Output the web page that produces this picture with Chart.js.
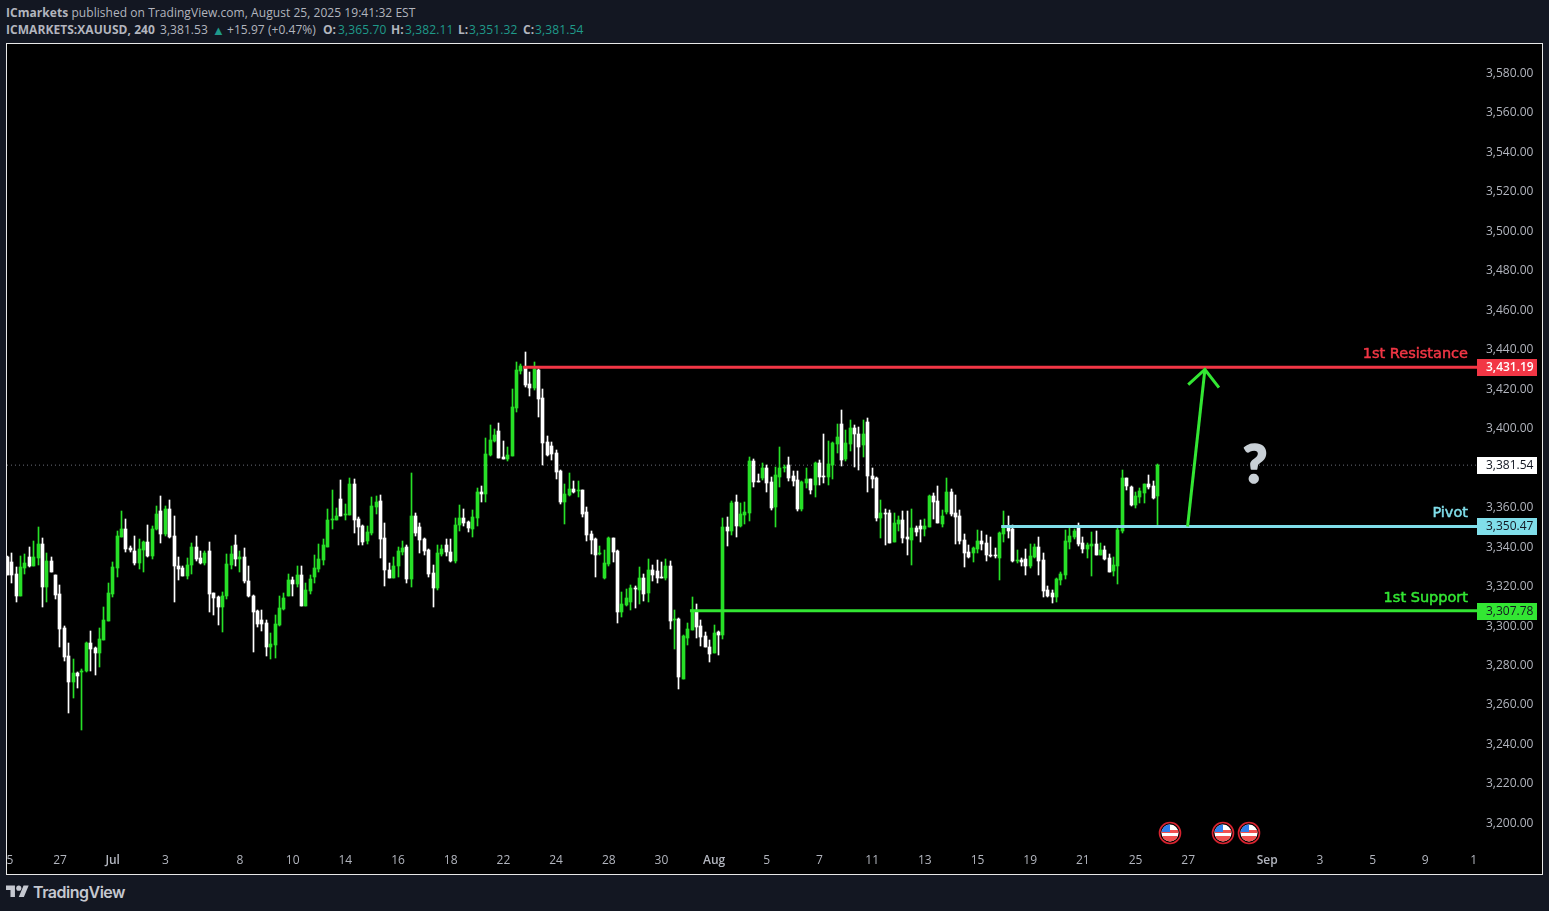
<!DOCTYPE html>
<html><head><meta charset="utf-8">
<script src="https://cdn.jsdelivr.net/npm/chart.js@4"></script>
<style>
html,body{margin:0;padding:0;background:#131722;width:1549px;height:911px;overflow:hidden}
body{font-family:"Open Sans",sans-serif;color:#b2b5be}
.hd{position:absolute;left:6px;white-space:nowrap;font-size:12px;line-height:16px;letter-spacing:.05px}
.hd b{font-weight:700;color:#b2b5be}
.p{position:absolute;top:22px;white-space:nowrap;font-size:12px;line-height:16px;letter-spacing:.05px}
.v{color:#1f9a8a;letter-spacing:.12px}
.b{font-weight:700}
#frame{position:absolute;left:6px;top:43px;width:1537px;height:832px;box-sizing:border-box;border:1px solid #e8e8e8;background:#000}
#wrap{position:absolute;left:0;top:0;width:1535px;height:830px}
#logo{position:absolute;left:6px;top:883px}
#tv{position:absolute;left:33px;top:881px;font:600 16px/22px "Inter",sans-serif;color:#c5c8d0;letter-spacing:-.5px}
</style></head><body>
<div class="hd" style="top:5px"><b>ICmarkets</b> published on TradingView.com, August 25, 2025 19:41:32 EST</div>
<span class="p b" style="left:6px">ICMARKETS:XAUUSD, 240</span>
<span class="p" style="left:160px">3,381.53</span>
<span class="p v" style="left:212px;font-size:13px">▲</span>
<span class="p" style="left:227px">+15.97 (+0.47%)</span>
<span class="p b" style="left:323px">O:</span><span class="p v" style="left:338px">3,365.70</span>
<span class="p b" style="left:391px">H:</span><span class="p v" style="left:405px">3,382.11</span>
<span class="p b" style="left:458px">L:</span><span class="p v" style="left:469px">3,351.32</span>
<span class="p b" style="left:523px">C:</span><span class="p v" style="left:535px">3,381.54</span>
<div id="frame"><div id="wrap"><canvas id="c" width="1535" height="830"></canvas></div></div>
<svg id="logo" width="23" height="18" viewBox="0 0 36 28"><path fill="#c5c8d0" d="M14 22H7V11H0V4h14v18zM28 22h-8l7.5-18h8L28 22z"/><circle fill="#c5c8d0" cx="20" cy="8" r="4"/></svg>
<div id="tv">TradingView</div>
<script>
const opens=[3335.2,3332.7,3326.6,3315.0,3329.2,3335.2,3330.2,3334.7,3341.8,3320.0,
3333.2,3326.1,3316.5,3298.8,3285.1,3271.9,3276.0,3277.0,3277.5,3291.2,
3288.7,3286.6,3293.2,3302.8,3316.5,3329.2,3344.9,3349.4,3339.8,3338.3,
3332.2,3338.8,3342.8,3335.7,3349.4,3358.5,3346.9,3359.5,3345.4,3330.7,
3329.2,3325.6,3331.2,3340.3,3334.7,3332.2,3338.3,3317.0,3314.5,3309.9,
3315.0,3331.2,3341.3,3334.2,3335.2,3323.1,3315.0,3307.4,3303.3,3301.8,
3289.2,3290.2,3300.8,3308.9,3315.0,3323.6,3321.1,3326.1,3310.4,3318.0,
3325.1,3329.1,3333.7,3340.3,3353.9,3353.9,3364.6,3356.5,3356.5,3372.2,
3354.4,3350.9,3343.3,3347.4,3360.5,3363.6,3344.8,3328.6,3324.6,3330.2,
3337.7,3340.3,3324.1,3356.0,3350.4,3344.3,3338.8,3327.1,3319.5,3336.7,
3341.3,3337.7,3333.2,3351.4,3355.0,3352.9,3349.4,3355.0,3368.1,3367.1,
3386.9,3394.0,3399.0,3385.9,3384.8,3386.4,3410.7,3429.4,3431.4,3422.8,
3420.8,3429.9,3415.7,3393.5,3391.4,3387.9,3378.8,3363.1,3366.6,3369.6,
3368.6,3369.1,3358.0,3346.8,3344.3,3336.7,3324.6,3331.6,3344.8,3338.2,
3307.3,3310.9,3312.4,3319.5,3318.5,3324.6,3317.0,3328.6,3328.1,3325.1,
3324.6,3330.6,3303.3,3303.8,3273.4,3294.2,3298.2,3307.8,3300.2,3295.2,
3289.6,3286.6,3297.2,3295.7,3350.4,3348.4,3363.0,3350.9,3356.5,3357.5,
3383.8,3373.7,3375.2,3380.3,3373.2,3360.5,3375.7,3380.3,3381.8,3376.2,
3374.2,3359.5,3372.7,3374.7,3371.6,3382.8,3376.2,3375.7,3381.8,3392.4,
3402.5,3384.8,3392.4,3400.5,3397.5,3391.9,3403.6,3376.2,3375.2,3354.9,
3357.5,3357.5,3342.8,3351.9,3353.9,3345.3,3343.8,3349.9,3350.9,3349.4,
3350.4,3366.1,3363.5,3351.9,3358.0,3368.1,3357.5,3356.0,3343.8,3337.7,
3337.2,3339.3,3343.3,3342.3,3336.2,3336.2,3334.7,3346.8,3350.4,3349.4,
3333.2,3333.7,3334.2,3330.6,3335.2,3340.3,3333.7,3318.5,3317.0,3314.9,
3323.5,3326.1,3342.8,3345.3,3350.9,3342.3,3339.3,3340.8,3341.8,3336.2,
3338.7,3334.7,3328.1,3330.6,3348.4,3375.2,3370.6,3361.5,3365.6,3367.6,3372.2,3371.1,3365.7];
const closes=[3326.1,3326.1,3315.0,3329.7,3332.2,3330.2,3335.2,3341.8,3320.0,3333.2,
3327.6,3316.0,3298.3,3284.6,3271.9,3276.0,3274.5,3277.5,3291.2,3288.2,
3286.6,3293.7,3303.3,3317.0,3329.7,3345.4,3349.4,3339.3,3338.8,3332.2,
3339.3,3342.8,3335.7,3349.4,3357.0,3346.9,3359.5,3344.9,3330.7,3328.7,
3325.6,3331.2,3340.3,3334.2,3332.2,3336.8,3316.5,3314.0,3309.9,3315.5,
3331.7,3336.3,3334.2,3335.2,3322.6,3315.0,3306.9,3301.3,3301.3,3289.2,
3290.7,3301.3,3309.4,3314.0,3323.6,3321.1,3326.1,3310.4,3318.5,3324.1,
3329.6,3334.2,3341.3,3353.9,3354.4,3356.0,3356.0,3357.0,3372.2,3353.9,
3350.4,3342.8,3347.9,3361.0,3363.1,3344.3,3328.6,3324.6,3330.7,3338.3,
3339.8,3324.1,3356.0,3347.4,3343.8,3338.3,3326.6,3319.5,3337.2,3339.3,
3337.7,3333.2,3351.4,3355.0,3352.4,3349.9,3355.5,3368.1,3367.1,3387.4,
3394.5,3397.0,3385.3,3384.8,3386.9,3411.2,3429.9,3431.9,3422.3,3420.8,
3430.4,3415.2,3392.9,3386.9,3387.4,3378.3,3363.1,3367.1,3369.6,3368.1,
3369.1,3357.0,3346.4,3343.8,3336.2,3337.2,3332.2,3344.8,3337.7,3307.3,
3311.4,3314.4,3319.5,3319.0,3324.6,3316.5,3328.6,3326.1,3324.6,3324.6,
3330.6,3302.8,3303.8,3274.4,3295.2,3298.7,3308.4,3299.7,3294.7,3289.6,
3286.1,3296.7,3295.7,3350.4,3348.4,3362.5,3350.9,3357.0,3358.0,3383.8,
3373.2,3373.2,3380.3,3372.7,3360.0,3376.7,3380.3,3380.8,3375.2,3373.7,
3359.5,3373.2,3374.7,3369.1,3382.8,3375.7,3375.7,3382.3,3392.9,3396.0,
3384.3,3392.9,3400.5,3397.5,3390.9,3397.5,3376.2,3374.7,3354.9,3357.5,
3357.0,3342.3,3352.4,3353.9,3344.8,3344.3,3349.9,3347.9,3349.4,3350.9,
3366.1,3363.0,3352.4,3356.0,3368.1,3357.0,3355.4,3343.3,3337.2,3335.2,
3339.8,3343.3,3341.8,3336.2,3335.7,3335.7,3347.4,3350.9,3348.4,3333.2,
3333.7,3332.7,3330.6,3335.7,3340.3,3333.2,3318.0,3315.4,3314.9,3324.1,
3326.6,3343.3,3345.8,3348.4,3341.8,3339.3,3341.3,3341.8,3336.2,3338.7,
3334.2,3327.6,3331.1,3348.9,3375.2,3371.1,3361.5,3366.1,3368.6,3372.2,3370.6,3365.1,3381.54];
const highs=[3335.7,3337.1,3329.7,3335.7,3336.3,3340.3,3343.3,3350.4,3344.4,3336.8,
3335.2,3326.1,3320.6,3300.3,3291.2,3283.1,3277.0,3278.5,3291.7,3297.3,
3289.2,3298.8,3309.9,3321.6,3332.7,3348.4,3358.5,3354.5,3340.8,3345.4,
3343.9,3343.3,3351.4,3350.9,3360.6,3366.1,3360.6,3364.1,3356.0,3335.2,
3330.7,3334.7,3342.3,3345.4,3338.3,3337.8,3342.8,3317.0,3315.5,3317.5,
3336.3,3340.8,3346.4,3338.3,3339.8,3330.2,3316.0,3308.4,3308.4,3303.3,
3296.3,3305.4,3315.0,3317.0,3326.6,3325.1,3330.7,3330.7,3322.0,3326.1,
3336.2,3341.8,3344.3,3359.5,3369.1,3360.0,3374.2,3362.1,3375.2,3374.7,
3355.5,3351.4,3350.9,3365.6,3366.1,3366.6,3352.4,3332.2,3335.2,3340.3,
3343.3,3341.3,3377.8,3357.5,3352.4,3344.8,3339.3,3331.2,3341.3,3341.3,
3344.3,3344.3,3355.0,3361.5,3359.5,3353.4,3359.0,3370.2,3371.2,3395.5,
3402.1,3400.0,3403.1,3394.0,3390.9,3420.3,3434.0,3433.0,3439.0,3428.9,
3434.0,3430.4,3420.3,3396.5,3393.5,3389.4,3379.3,3372.2,3377.8,3373.7,
3373.7,3369.1,3360.5,3348.4,3344.8,3340.8,3338.7,3345.3,3344.8,3338.7,
3317.5,3319.0,3321.0,3320.5,3330.1,3326.6,3334.2,3331.1,3333.7,3332.7,
3334.2,3333.2,3308.4,3304.3,3295.7,3301.8,3314.9,3311.4,3303.3,3297.2,
3293.2,3300.7,3297.7,3354.9,3355.4,3363.5,3366.6,3362.5,3363.0,3385.8,
3384.8,3377.2,3382.8,3381.8,3375.7,3380.8,3390.9,3381.8,3385.8,3378.7,
3378.7,3373.7,3380.3,3374.7,3383.3,3384.3,3397.5,3393.9,3393.4,3402.5,
3409.6,3399.5,3404.6,3402.0,3401.0,3404.6,3405.6,3380.3,3375.7,3364.1,
3359.5,3359.0,3357.5,3356.0,3358.5,3358.5,3359.5,3350.9,3353.9,3354.4,
3366.6,3367.6,3371.1,3359.0,3375.2,3369.6,3366.6,3359.0,3346.8,3341.3,
3340.3,3348.9,3348.4,3346.3,3345.3,3339.8,3347.9,3358.5,3356.0,3351.4,
3338.7,3334.7,3339.3,3341.8,3341.8,3345.3,3337.2,3320.5,3318.5,3324.6,
3327.6,3348.9,3350.4,3349.4,3352.4,3345.3,3342.3,3347.9,3348.4,3342.3,
3340.8,3336.7,3335.2,3349.9,3379.3,3375.2,3371.1,3368.1,3370.1,3372.2,3376.7,3373.7,3382.11];
const lows=[3326.1,3321.6,3312.0,3315.0,3326.6,3329.7,3330.2,3331.2,3309.9,3312.0,
3327.6,3313.5,3289.2,3282.1,3256.2,3263.8,3268.4,3247.6,3277.0,3277.5,
3275.0,3279.5,3293.2,3302.8,3314.5,3325.1,3344.9,3337.3,3337.3,3331.2,
3328.7,3327.6,3335.2,3334.2,3348.9,3342.3,3345.9,3344.4,3312.0,3323.6,
3325.6,3324.1,3326.6,3333.2,3331.7,3331.2,3306.9,3305.4,3300.8,3296.8,
3313.5,3328.7,3330.2,3327.6,3321.6,3314.5,3287.1,3299.8,3297.3,3285.1,
3283.1,3283.6,3300.3,3308.4,3315.0,3315.0,3320.0,3310.4,3310.4,3316.5,
3322.0,3327.6,3331.2,3340.3,3349.4,3353.9,3356.0,3353.9,3356.5,3347.4,
3341.3,3341.3,3341.8,3346.4,3357.0,3334.7,3320.5,3324.6,3324.6,3325.1,
3336.2,3322.0,3320.0,3345.9,3337.2,3336.2,3325.1,3309.9,3318.5,3335.7,
3335.7,3332.7,3332.2,3348.4,3350.9,3347.9,3345.3,3350.9,3363.1,3363.1,
3386.4,3393.5,3385.3,3384.8,3383.8,3386.4,3408.6,3427.9,3421.3,3416.7,
3419.8,3406.1,3381.8,3386.4,3384.3,3374.7,3362.1,3351.9,3366.1,3367.6,
3365.6,3355.5,3343.3,3336.7,3325.1,3336.2,3324.1,3330.6,3332.7,3301.8,
3304.8,3310.4,3308.4,3309.4,3311.4,3312.9,3312.4,3323.0,3322.0,3324.6,
3323.5,3298.7,3288.6,3268.3,3273.4,3290.6,3298.2,3294.2,3290.1,3289.6,
3282.0,3286.6,3285.6,3293.7,3340.8,3346.3,3345.3,3350.4,3351.9,3353.4,
3370.6,3373.2,3374.2,3368.1,3359.0,3350.4,3370.6,3378.2,3373.7,3371.1,
3358.5,3358.5,3370.1,3367.1,3365.6,3371.6,3372.7,3371.6,3374.7,3387.9,
3381.3,3383.8,3388.9,3380.8,3379.3,3385.8,3368.1,3370.1,3353.4,3344.8,
3341.3,3342.3,3342.8,3348.4,3342.3,3336.2,3331.1,3345.8,3342.8,3345.8,
3350.4,3354.4,3352.4,3350.4,3357.0,3356.0,3341.8,3341.8,3330.1,3334.7,
3332.7,3337.2,3338.7,3333.2,3335.2,3334.7,3323.5,3342.8,3344.8,3332.7,
3332.2,3330.6,3326.1,3329.6,3334.7,3326.1,3314.9,3314.9,3311.9,3312.4,
3321.0,3324.1,3339.3,3344.3,3340.8,3337.2,3334.7,3325.6,3336.2,3336.2,
3333.7,3327.6,3325.6,3321.5,3347.4,3369.1,3361.0,3360.0,3362.5,3362.5,3369.6,3364.6,3351.32];

const priceTicks=[3200,3220,3240,3260,3280,3300,3320,3340,3360,3380,3400,3420,3440,3460,3480,3500,3520,3540,3560,3580];
const dateTickBars=[0.6,12,24,36,53,65,77,89,101,113,125,137,149,161,173,185,197,209,221,233,245,257,269,287,299,311,323,334];
const dateTickLabels=["5","27","Jul","3","8","10","14","16","18","22","24","28","30","Aug","5","7","11","13","15","19","21","25","27","Sep","3","5","9","1"];
const levelNames=["1st Resistance","Pivot","1st Support"];
const levelPrices=[3431.19,3350.47,3307.78];
const levelStartBars=[117.5,226.4,155.5];
const lastPrice=3381.54;
const arrowBars=[268.85,272.8],arrowPrices=[3350.47,3430];
const arrowHeadBars=[269,272.8,276],arrowHeadPrices=[3422.3,3430,3420.8];
const questionBar=284.2,questionPrice=3381.5;
const eventBars=[264.9,276.9,282.8];
const barMin=-0.07,barMax=334.78,priceMin=3188.6,priceMax=3594.9;

const GREEN="#27e027",LINEGREEN="#33e633",WHITE="#ffffff",RED="#f23645",CYAN="#80deea";
const FONT='"Open Sans",sans-serif';
const idx=opens.map((_,i)=>i);
const colors=idx.map(i=>closes[i]>=opens[i]?GREEN:WHITE);

const crisp={id:'crisp',afterDatasetsUpdate(ch){
  ch.data.datasets.forEach((d,di)=>{ if(d.type==='line')return;
    ch.getDatasetMeta(di).data.forEach(el=>{
      el.x=Math.floor(el.x)+0.5;
      el.y=Math.round(el.y);el.base=Math.round(el.base);
      if(el.y===el.base)el.base=el.y+1;
    });
  });
}};
const overlay={id:'overlay',afterDraw(ch){
  const c=ch.ctx,x=ch.scales.x,y=ch.scales.y,R=ch.chartArea.right;
  c.save();
  const tags=[[levelPrices[0],RED,"#fff"],[levelPrices[1],CYAN,"#131722"],[levelPrices[2],LINEGREEN,"#131722"],[lastPrice,"#fff","#131722"]];
  c.textBaseline='middle';c.textAlign='left';
  tags.forEach(([p,bg,fg])=>{
    const py=Math.round(y.getPixelForValue(p));
    c.fillStyle=bg;c.fillRect(R,py-8,60,17);
    c.fillStyle=fg;c.font=(fg==="#fff"?'600 ':'')+'12px '+FONT;
    c.fillText(p.toLocaleString('en-US',{minimumFractionDigits:2,maximumFractionDigits:2}),R+9,py+0.5);
  });
  c.textAlign='right';c.font='14.5px "DejaVu Sans",sans-serif';c.textBaseline='alphabetic';c.lineWidth=0.5;
  [RED,CYAN,LINEGREEN].forEach((col,i)=>{
    c.fillStyle=col;c.strokeStyle=col;
    const ly=y.getPixelForValue(levelPrices[i])-9;
    c.fillText(levelNames[i],R-9,ly);
    c.strokeText(levelNames[i],R-9,ly);
  });
  c.fillStyle="#c9d0d6";c.strokeStyle="#c9d0d6";c.lineWidth=1.6;c.lineJoin='round';c.textAlign='center';c.textBaseline='middle';c.font='900 53px Lato,sans-serif';
  const qx=x.getPixelForValue(questionBar),qy=y.getPixelForValue(questionPrice)+1;
  c.fillText("?",qx,qy);c.strokeText("?",qx,qy);
  eventBars.forEach(b=>{
    const cx=Math.round(x.getPixelForValue(b)),cy=789;
    c.beginPath();c.arc(cx,cy,10.5,0,Math.PI*2);c.fillStyle="#000";c.fill();
    c.lineWidth=1.6;c.strokeStyle="#d8232f";c.stroke();
    c.save();c.beginPath();c.arc(cx,cy,8.5,0,Math.PI*2);c.clip();
    c.fillStyle="#fff";c.fillRect(cx-9,cy-9,18,18);
    c.fillStyle="#f0504f";c.fillRect(cx-9,cy-3,18,3);c.fillRect(cx-9,cy+3,18,6);
    c.fillStyle="#2f80ed";c.fillRect(cx-9,cy-9,9,8);
    c.restore();
  });
  c.restore();
}};

const datasets=[
 {type:'line',data:[{x:barMin,y:lastPrice},{x:barMax,y:lastPrice}],borderColor:"#6a6d78",borderWidth:1,borderDash:[1,3],pointRadius:0,order:5},
 {type:'bar',data:idx.map(i=>({x:i,y:[lows[i],highs[i]]})),backgroundColor:colors,barThickness:1,grouped:false,order:4},
 {type:'bar',data:idx.map(i=>({x:i,y:[opens[i],closes[i]]})),backgroundColor:colors,barThickness:3,grouped:false,order:3},
 ...levelPrices.map((p,i)=>({type:'line',data:[{x:levelStartBars[i],y:p},{x:barMax,y:p}],borderColor:[RED,CYAN,LINEGREEN][i],borderWidth:3,pointRadius:0,order:2})),
 {type:'line',data:arrowBars.map((b,i)=>({x:b,y:arrowPrices[i]})),borderColor:LINEGREEN,borderWidth:3,pointRadius:0,order:1},
 {type:'line',data:arrowHeadBars.map((b,i)=>({x:b,y:arrowHeadPrices[i]})),borderColor:LINEGREEN,borderWidth:3,pointRadius:0,order:1}
];
new Chart(document.getElementById('c'),{
 type:'bar',
 data:{datasets},
 plugins:[crisp,overlay],
 options:{
  responsive:false,animation:false,events:[],
  layout:{padding:0},
  plugins:{legend:{display:false},title:{display:false},tooltip:{enabled:false}},
  scales:{
   x:{type:'linear',min:barMin,max:barMax,offset:false,
      grid:{display:false,drawTicks:false},border:{display:false},
      afterBuildTicks(a){a.ticks=dateTickBars.map(v=>({value:v}));},
      afterFit(a){a.height=28;a.paddingLeft=0;a.paddingRight=0;},
      ticks:{autoSkip:false,maxRotation:0,minRotation:0,padding:7,color:"#b2b5be",
        font:(ctx)=>{const l=dateTickLabels[ctx.index];return {family:FONT,size:12,weight:/[A-Z]/.test(l||'')?'600':'400'};},
        callback(v,i){return dateTickLabels[i];}}},
   y:{type:'linear',position:'right',min:priceMin,max:priceMax,
      grid:{display:false,drawTicks:false},border:{display:false},
      afterBuildTicks(a){a.ticks=priceTicks.map(v=>({value:v}));},
      afterFit(a){a.width=65;a.paddingTop=0;a.paddingBottom=0;},
      ticks:{padding:9,color:"#b2b5be",font:{family:FONT,size:12},
        callback(v){return v.toLocaleString('en-US',{minimumFractionDigits:2,maximumFractionDigits:2});}}}
  }
 }
});
</script>
</body></html>
